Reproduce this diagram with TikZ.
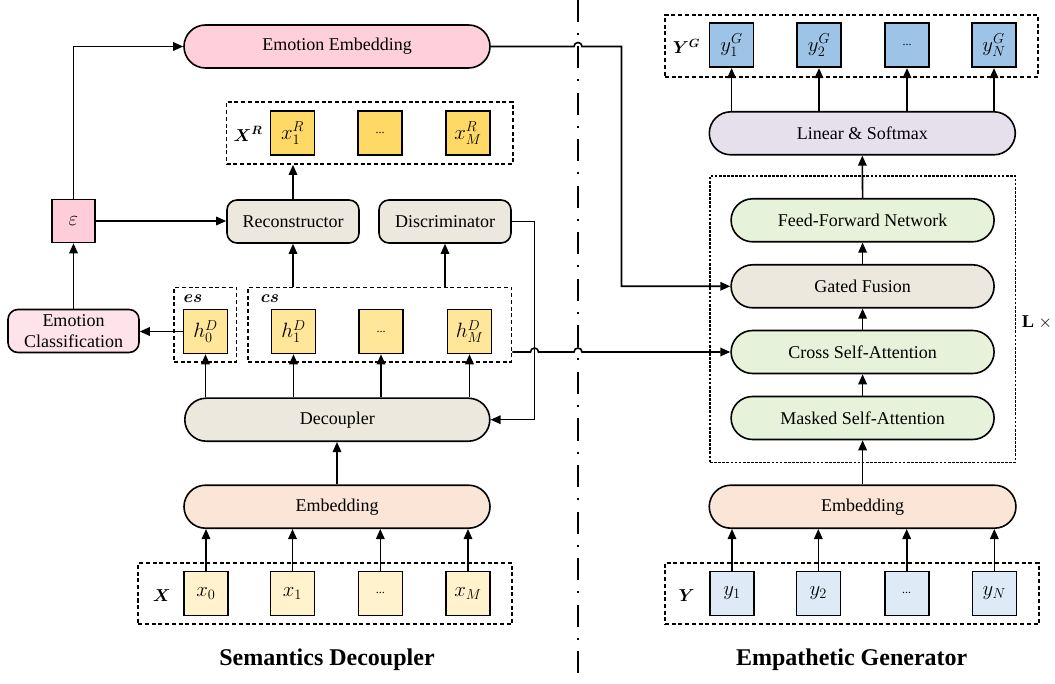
\documentclass[tikz,border=0pt]{standalone}
\usepackage{fontspec}
\setmainfont{Liberation Serif}
\usepackage{bm}
\usetikzlibrary{arrows.meta,calc}
\definecolor{cEE}{HTML}{FFD0DC}
\definecolor{cEC}{HTML}{FFE3EB}
\definecolor{cEps}{HTML}{FFCDD9}
\definecolor{cBeige}{HTML}{ECE8DE}
\definecolor{cPeach}{HTML}{FBE5D6}
\definecolor{cLav}{HTML}{E6E0EC}
\definecolor{cGreen}{HTML}{E6F2D9}
\definecolor{cGold}{HTML}{FFD966}
\definecolor{cGoldL}{HTML}{FFE699}
\definecolor{cCream}{HTML}{FFF2CC}
\definecolor{cBlue}{HTML}{9DC3E6}
\definecolor{cBlueL}{HTML}{DEEBF7}
\tikzset{
 bx/.style={draw, line width=1.6pt, inner sep=0pt, font=\fontsize{18}{22}\selectfont},
 sq/.style={bx, minimum width=44pt, minimum height=44pt, font=\fontsize{22}{24}\selectfont},
 pill/.style={bx, rounded corners=21.5pt, minimum width=306pt, minimum height=43pt},
 gpill/.style={pill, minimum width=263pt, fill=cGreen},
 rbox/.style={bx, rounded corners=10pt, minimum width=132pt, minimum height=43pt},
 dbox/.style={draw, line width=1.8pt, dash pattern=on 4pt off 2.7pt, inner sep=0pt},
 fbox/.style={draw, line width=1.3pt, dash pattern=on 2.7pt off 1.4pt, inner sep=0pt},
 lab/.style={font=\fontsize{18}{22}\selectfont, inner sep=0pt},
 ttl/.style={font=\fontsize{24}{28}\selectfont\bfseries, inner sep=0pt},
 arr/.style={line width=1.6pt, -{Triangle[length=10pt,width=8.5pt]}},
 divline/.style={line width=2.7pt},
}
\newcommand{\dd}{{\fontsize{12}{12}\selectfont ...}}
\begin{document}
\begin{tikzpicture}[x=1pt,y=-1pt]
\useasboundingbox (0,0) rectangle (1055,684);

% ---------- left side ----------
\node[pill, fill=cEE] (EE) at (337,46.5) {Emotion Embedding};

\node[dbox, minimum width=286.5pt, minimum height=62pt] (xrbox) at (369.75,133) {};
\node[lab] (xrlab) at (248,134) {$\bm{X^R}$};
\node[sq, fill=cGold] (xr1) at (292.5,133) {$x_1^R$};
\node[sq, fill=cGold] (xrd) at (380,133) {\dd};
\node[sq, fill=cGold] (xrM) at (468,133) {$x_M^R$};

\node[sq, minimum width=43pt, minimum height=43pt, fill=cEps] (eps) at (73.5,221) {$\varepsilon$};
\node[rbox, fill=cBeige] (rec) at (293,221.5) {Reconstructor};
\node[rbox, fill=cBeige] (dis) at (445,221.5) {Discriminator};

\node[bx, rounded corners=10pt, minimum width=131pt, minimum height=43pt, fill=cEC, align=center] (EC) at (73.5,331) {Emotion\\[-1pt]Classification};

\node[dbox, minimum width=62.5pt, minimum height=74.5pt] (esbox) at (205.25,324.75) {};
\node[dbox, minimum width=263.5pt, minimum height=74.5pt] (csbox) at (379.75,324.75) {};
\node[lab] (eslab) at (193,298.5) {$\bm{es}$};
\node[lab] (cslab) at (270,298.5) {$\bm{cs}$};
\node[sq, fill=cGoldL] (h0) at (205.5,331.5) {$h_0^D$};
\node[sq, fill=cGoldL] (h1) at (293.5,331.5) {$h_1^D$};
\node[sq, fill=cGoldL] (hd) at (381,331.5) {\dd};
\node[sq, fill=cGoldL] (hM) at (469.5,331.5) {$h_M^D$};

\node[pill, minimum width=305pt, fill=cBeige] (dec) at (337.3,419.7) {Decoupler};
\node[pill, fill=cPeach] (emb1) at (337,506.7) {Embedding};

\node[dbox, minimum width=374pt, minimum height=61pt] (xbox) at (325.3,593.8) {};
\node[lab] (xlab) at (161.7,596) {$\bm{X}$};
\node[sq, fill=cCream] (x0) at (206,593.3) {$x_0$};
\node[sq, fill=cCream] (x1) at (292.5,593.3) {$x_1$};
\node[sq, fill=cCream] (xd) at (380.3,593.3) {\dd};
\node[sq, fill=cCream] (xM) at (468,593.3) {$x_M$};

\node[ttl] (t1) at (327,660) {Semantics Decoupler};

% ---------- divider (dash-dot) ----------
\coordinate (divtop) at (578,0);
\coordinate (divbot) at (578,684);
\foreach \k in {0,...,14}{
  \draw[divline] ($(divtop)+(0,{46.5*\k})$) -- ++(0,22);
  \draw[divline] ($(divtop)+(0,{33+46.5*\k})$) -- ++(0,2);
}

% ---------- right side ----------
\node[dbox, minimum width=373pt, minimum height=61.7pt] (ygbox) at (851.5,45.85) {};
\node[lab] (yglab) at (686.5,46.7) {$\bm{Y^G}$};
\node[sq, fill=cBlue] (yg1) at (731.6,45.3) {$y_1^G$};
\node[sq, fill=cBlue] (yg2) at (819,45.3) {$y_2^G$};
\node[sq, fill=cBlue] (ygd) at (907,45.3) {\dd};
\node[sq, fill=cBlue] (ygN) at (994,45.3) {$y_N^G$};

\node[pill, fill=cLav] (LS) at (862.3,133.3) {Linear \& Softmax};

\node[fbox, minimum width=305.4pt, minimum height=286.3pt] (big) at (862.7,319.15) {};
\node[gpill] (FFN) at (862.6,220.3) {Feed-Forward Network};
\node[pill, minimum width=263pt, fill=cBeige] (GF) at (862.6,286.3) {Gated Fusion};
\node[gpill] (CSA) at (862.6,352) {Cross Self-Attention};
\node[gpill] (MSA) at (862.6,418) {Masked Self-Attention};
\node[lab] (Lx) at (1037,322) {\textbf{L} $\times$};

\node[pill, minimum width=306.7pt, fill=cPeach] (emb2) at (862.6,506.7) {Embedding};

\node[dbox, minimum width=374pt, minimum height=61.6pt] (ybox) at (852,593.5) {};
\node[lab] (ylab) at (686.7,596) {$\bm{Y}$};
\node[sq, fill=cBlueL] (y1) at (732,593.3) {$y_1$};
\node[sq, fill=cBlueL] (y2) at (818.3,593.3) {$y_2$};
\node[sq, fill=cBlueL] (yd) at (906.7,593.3) {\dd};
\node[sq, fill=cBlueL] (yN) at (994.3,593.3) {$y_N$};

\node[ttl] (t2) at (851.7,660) {Empathetic Generator};

% ---------- connectors left ----------
\foreach \n in {x0,x1,xd,xM}
  \draw[arr] (\n.north) -- (\n.north |- emb1.south);
\draw[arr] (emb1.north) -- (emb1.north |- dec.south);
\foreach \n in {h0,h1,hd,hM}
  \draw[arr] (\n.south |- dec.north) -- (\n.south);
\draw[arr] (h0.west) -- (h0.west -| EC.east);
\draw[arr] (EC.north) -- (EC.north |- eps.south);
\draw[arr] (eps.north) |- (EE.west);
\draw[arr] (eps.east) -- (eps.east -| rec.west);
\draw[arr] (csbox.north -| rec.south) -- (rec.south);
\draw[arr] (csbox.north -| dis.south) -- (dis.south);
\draw[arr] (rec.north) -- (rec.north |- xrbox.south);
\coordinate (dturn) at (534.5,221.5);
\draw[arr] (dis.east) -- (dturn) |- (dec.east);

% ---------- connectors crossing ----------
\coordinate (eeturn) at (621.5,46.5);
\draw[arr] (EE.east) -- ($(divtop |- EE.east)+(-4,0)$) arc[start angle=180, end angle=0, radius=4pt]
  -- (eeturn) |- (GF.west);
\draw[arr] (csbox.east |- CSA.west) -- ($(dturn |- CSA.west)+(-4,0)$) arc[start angle=180, end angle=0, radius=4pt]
  -- ($(divtop |- CSA.west)+(-4,0)$) arc[start angle=180, end angle=0, radius=4pt] -- (CSA.west);

% ---------- connectors right ----------
\foreach \n in {y1,y2,yd,yN}
  \draw[arr] (\n.north) -- (\n.north |- emb2.south);
\draw[arr] (emb2.north) -- (MSA.south);
\draw[arr] (MSA.north) -- (CSA.south);
\draw[arr] (CSA.north) -- (GF.south);
\draw[arr] (GF.north) -- (FFN.south);
\draw[arr] (FFN.north) -- (LS.south);
\foreach \n in {yg1,yg2,ygd,ygN}
  \draw[arr] (\n.south |- LS.north) -- (\n.south);
\end{tikzpicture}
\end{document}
